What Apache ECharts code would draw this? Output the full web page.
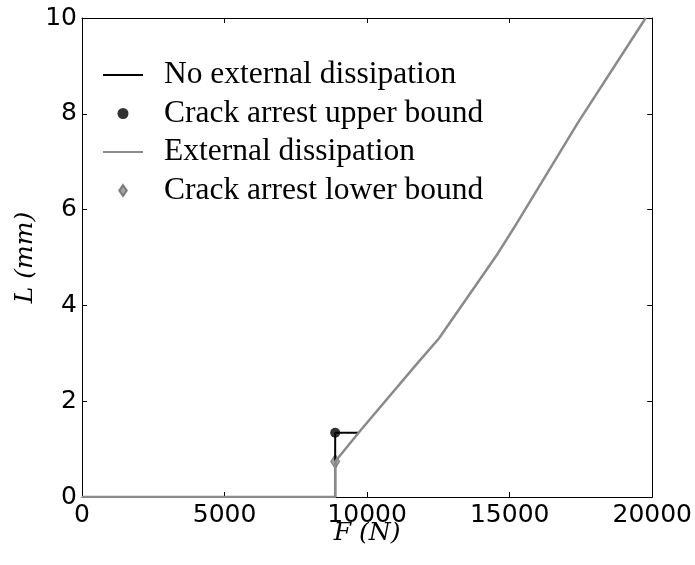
<!DOCTYPE html>
<html>
<head>
<meta charset="utf-8">
<script src="https://cdn.jsdelivr.net/npm/echarts@6/dist/echarts.min.js"></script>
<style>html,body{margin:0;padding:0;background:#fff}#c{width:695px;height:565px}</style>
</head>
<body>
<div id="c"></div>
<script>
// Data
const xTicks = [0, 5000, 10000, 15000, 20000];
const yTicks = [0, 2, 4, 6, 8, 10];
const noDissF = [0, 8880, 8880, 9700];
const noDissL = [0, 0, 1.34, 1.34];
const upperF = [8880];
const upperL = [1.34];
const dissF = [0, 8880, 8880, 9780, 11759, 12517, 14591, 15140, 17400, 19770];
const dissL = [0, 0, 0.74, 1.40, 2.79, 3.31, 5.09, 5.61, 7.82, 10.0];
const lowerF = [8880];
const lowerL = [0.74];
const names = ['No external dissipation', 'Crack arrest upper bound', 'External dissipation', 'Crack arrest lower bound'];

const pairs = (a, b) => a.map((v, i) => [v, b[i]]);
const chart = echarts.init(document.getElementById('c'), null, {renderer: 'canvas'});
const tickFont = {fontFamily: 'DejaVu Sans', fontSize: 25, color: '#000', formatter: v => String(v)};
const axisLine = {show: true, onZero: false, lineStyle: {color: '#000', width: 1}};
const tick = {show: true, inside: true, length: 5, lineStyle: {color: '#000'}};
const titleFont = {fontFamily: 'DejaVu Serif', fontStyle: 'italic', fontSize: 25, color: '#000'};
chart.setOption({
  animation: false,
  backgroundColor: '#fff',
  grid: {left: 82, right: 41, top: 18, bottom: 68, containLabel: false},
  xAxis: [
    {type: 'value', min: xTicks[0], max: xTicks[xTicks.length - 1], interval: xTicks[1] - xTicks[0],
     axisLine: axisLine, axisTick: tick, splitLine: {show: false},
     axisLabel: Object.assign({margin: 6}, tickFont),
     name: 'F (N)', nameLocation: 'middle', nameGap: 24, nameMoveOverlap: false, nameTextStyle: titleFont},
    {type: 'value', position: 'top', min: xTicks[0], max: xTicks[xTicks.length - 1], interval: xTicks[1] - xTicks[0],
     axisLine: axisLine, axisTick: tick, splitLine: {show: false}, axisLabel: {show: false}}
  ],
  yAxis: [
    {type: 'value', min: yTicks[0], max: yTicks[yTicks.length - 1], interval: yTicks[1] - yTicks[0],
     axisLine: axisLine, axisTick: tick, splitLine: {show: false},
     axisLabel: Object.assign({margin: 5}, tickFont),
     name: 'L (mm)', nameLocation: 'middle', nameGap: 44, nameMoveOverlap: false, nameRotate: 90, nameTextStyle: titleFont},
    {type: 'value', position: 'right', min: yTicks[0], max: yTicks[yTicks.length - 1], interval: yTicks[1] - yTicks[0],
     axisLine: axisLine, axisTick: tick, splitLine: {show: false}, axisLabel: {show: false}}
  ],
  legend: {
    orient: 'vertical', left: 97, top: 54, itemWidth: 40, itemHeight: 11, itemGap: 6.5,
    data: [
      {name: names[0], itemStyle: {opacity: 0}},
      {name: names[1], icon: 'circle'},
      {name: names[2], itemStyle: {opacity: 0}},
      {name: names[3], icon: 'path://M9,0L18,13L9,26L0,13Z'}
    ],
    textStyle: {fontFamily: 'Liberation Serif', fontSize: 31.5, color: '#000', padding: [0, 0, 0, 16]}
  },
  series: [
    {name: names[0], type: 'line', data: pairs(noDissF, noDissL), symbol: 'none',
     lineStyle: {color: '#000', width: 2}, itemStyle: {color: '#000'}},
    {name: names[1], type: 'scatter', data: pairs(upperF, upperL), symbol: 'circle', symbolSize: 10,
     symbolKeepAspect: true, itemStyle: {color: '#000'}},
    {name: names[2], type: 'line', data: pairs(dissF, dissL), symbol: 'none',
     lineStyle: {color: '#8a8a8a', width: 2.5}, itemStyle: {color: '#8a8a8a'}},
    {name: names[3], type: 'scatter', data: pairs(lowerF, lowerL), symbol: 'diamond', symbolSize: [9, 14],
     symbolKeepAspect: true, itemStyle: {color: '#8c8c8c', borderColor: '#666', borderWidth: 1}}
  ]
});
</script>
</body>
</html>
